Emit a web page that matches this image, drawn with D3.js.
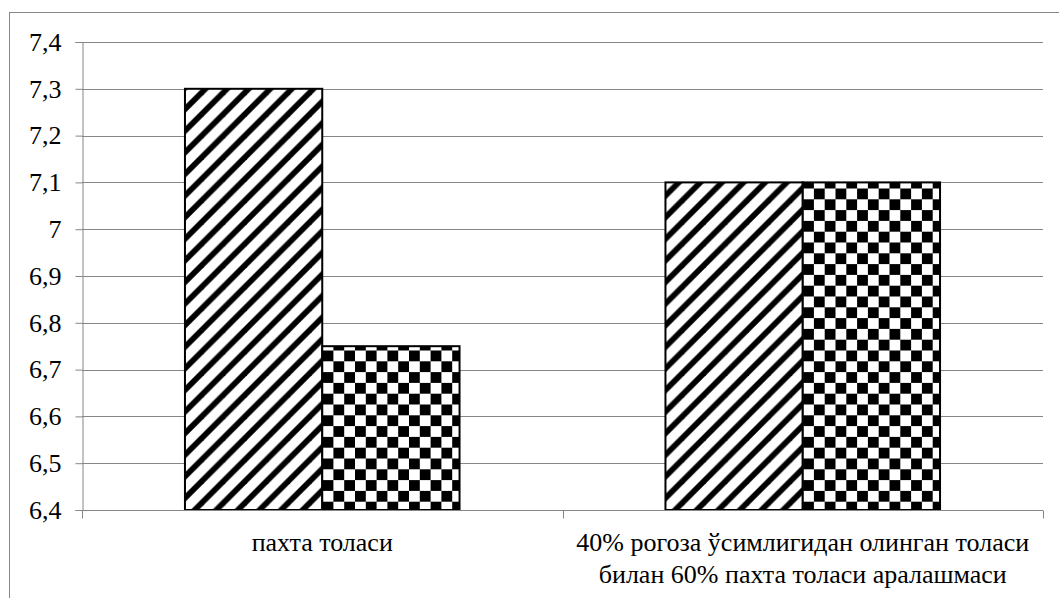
<!DOCTYPE html>
<html>
<head>
<meta charset="utf-8">
<script src="https://cdn.jsdelivr.net/npm/d3@7"></script>
<style>
  html, body { margin: 0; padding: 0; background: #fff; }
  svg { display: block; }
</style>
</head>
<body>
<svg id="chart" width="1059" height="598"></svg>
<script>
// Categories (each label split into its display lines)
const categories = ["пахта толаси", "40% рогоза ўсимлигидан олинган толаси билан 60% пахта толаси аралашмаси"];
const categoryLines = [
  ["пахта толаси"],
  ["40% рогоза ўсимлигидан олинган толаси", "билан 60% пахта толаси аралашмаси"]
];
// Two series, hatched and checkered
const seriesNames = ["s1", "s2"];
const series1 = [7.3, 7.1];
const series2 = [6.75, 7.1];
// Value axis ticks
const tickValues = [6.4, 6.5, 6.6, 6.7, 6.8, 6.9, 7.0, 7.1, 7.2, 7.3, 7.4];
const tickLabels = ["6,4", "6,5", "6,6", "6,7", "6,8", "6,9", "7", "7,1", "7,2", "7,3", "7,4"];

// pick the first installed serif face
function pickFont(cands) {
  const ctx = document.createElement("canvas").getContext("2d");
  const sample = "пахта толаси 7,4 ABCwxyz";
  const w = f => { ctx.font = "40px " + f; return ctx.measureText(sample).width; };
  const mono = w("monospace");
  for (const c of cands) {
    const a = w(`'${c}', monospace`), b = w(`'${c}', sans-serif`);
    if (a === b && a !== mono) return `'${c}'`;
  }
  return "serif";
}
const FONT = pickFont(["Liberation Serif", "Times New Roman", "Tinos", "DejaVu Serif", "Noto Serif", "FreeSerif", "Nimbus Roman"]) + ", serif";

const svg = d3.select("#chart");
const plot = { left: 82, right: 1043, top: 42, bottom: 510 };
const grey = "#868686";

// patterns
const defs = svg.append("defs");
const P = 21.6, T = 8.1;
const diag = defs.append("pattern")
  .attr("id", "diag").attr("patternUnits", "userSpaceOnUse")
  .attr("width", P).attr("height", P)
  .attr("patternTransform", "translate(13.8,0)");
diag.append("rect").attr("width", P).attr("height", P).attr("fill", "#fff");
diag.append("polygon").attr("points", `0,0 ${T},0 0,${T}`).attr("fill", "#000");
diag.append("polygon").attr("points", `0,${P} ${P},0 ${P},${T} ${T},${P}`).attr("fill", "#000");

const S = P / 2;
const check = defs.append("pattern")
  .attr("id", "check").attr("patternUnits", "userSpaceOnUse")
  .attr("width", P).attr("height", P)
  .attr("x", 3).attr("y", 4.9);
check.append("rect").attr("width", P).attr("height", P).attr("fill", "#fff");
check.append("rect").attr("x", 0).attr("y", 0).attr("width", S).attr("height", S).attr("fill", "#000");
check.append("rect").attr("x", S).attr("y", S).attr("width", S).attr("height", S).attr("fill", "#000");

// chart area border
svg.append("rect").attr("x", 9.5).attr("y", 12.5).attr("width", 1100).attr("height", 700)
  .attr("fill", "none").attr("stroke", grey).attr("stroke-width", 1);

const y = d3.scaleLinear().domain([6.4, 7.4]).range([plot.bottom, plot.top]);
const x0 = d3.scaleBand().domain(categories).range([plot.left, plot.right]).padding(0);
const x1 = d3.scaleBand().domain(seriesNames).range([0, x0.bandwidth()]).paddingInner(0).paddingOuter(0.75);

// gridlines
svg.append("g").selectAll("line").data(tickValues.slice(1)).join("line")
  .attr("x1", plot.left).attr("x2", plot.right)
  .attr("y1", d => Math.round(y(d)) + 0.5).attr("y2", d => Math.round(y(d)) + 0.5)
  .attr("stroke", grey).attr("stroke-width", 1);

// bars
const fills = { s1: "url(#diag)", s2: "url(#check)" };
const rows = categories.map((c, i) => ({ cat: c, vals: [
  { key: "s1", v: series1[i] }, { key: "s2", v: series2[i] }
] }));
svg.append("g").selectAll("g").data(rows).join("g")
  .attr("transform", d => `translate(${x0(d.cat)},0)`)
  .selectAll("rect").data(d => d.vals).join("rect")
  .attr("x", d => x1(d.key)).attr("width", x1.bandwidth())
  .attr("y", d => y(d.v)).attr("height", d => y(6.4) - y(d.v))
  .attr("fill", d => fills[d.key]).attr("stroke", "#000").attr("stroke-width", 2);

// value axis
const yAxis = d3.axisLeft(y).tickValues(tickValues).tickSize(7).tickPadding(14)
  .tickFormat((d, i) => tickLabels[i]);
const gy = svg.append("g").attr("transform", `translate(${plot.left + 0.5},0)`).call(yAxis)
  .attr("font-family", FONT).attr("font-size", 26);
gy.select(".domain").attr("stroke", grey);
gy.selectAll(".tick line").attr("stroke", grey);
gy.selectAll(".tick text").attr("fill", "#000")
  .style("font-family", FONT).style("font-size", "26px");

// category axis
const gx = svg.append("g").attr("transform", `translate(0,${Math.round(plot.bottom) + 0.5})`);
gx.append("line").attr("x1", plot.left).attr("x2", plot.right).attr("stroke", grey);
const edges = [plot.left, ...categories.map(c => x0(c) + x0.bandwidth())];
gx.selectAll("line.tk").data(edges).join("line").attr("class", "tk")
  .attr("x1", d => Math.round(d) + 0.5).attr("x2", d => Math.round(d) + 0.5)
  .attr("y1", 0).attr("y2", 8).attr("stroke", grey);
const lab = svg.append("g").selectAll("text").data(categories).join("text")
  .attr("x", d => x0(d) + x0.bandwidth() / 2)
  .attr("y", 551)
  .attr("text-anchor", "middle")
  .attr("fill", "#000")
  .style("font-family", FONT)
  .style("font-size", "26px");
lab.each(function(d, i) {
  d3.select(this).selectAll("tspan").data(categoryLines[i]).join("tspan")
    .attr("x", x0(d) + x0.bandwidth() / 2)
    .attr("dy", (t, j) => j === 0 ? 0 : 32)
    .text(t => t);
});
</script>
</body>
</html>
